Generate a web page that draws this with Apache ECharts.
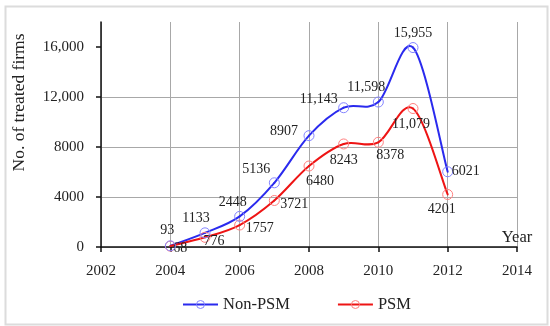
<!DOCTYPE html>
<html>
<head>
<meta charset="utf-8">
<script src="https://cdn.jsdelivr.net/npm/echarts@6/dist/echarts.min.js"></script>
<style>
html,body{margin:0;padding:0;background:#fff;}
#c{width:550px;height:326px;}
</style>
</head>
<body>
<div id="c"></div>
<script>
const years = [2004, 2005, 2006, 2007, 2008, 2009, 2010, 2011, 2012];
const nonPsm = [93, 1133, 2448, 5136, 8907, 11143, 11598, 15955, 6021];
const psm = [68, 776, 1757, 3721, 6480, 8243, 8378, 11079, 4201];
const yTickValues = [0, 4000, 8000, 12000, 16000];
const seriesNames = ['Non-PSM', 'PSM'];

// label offsets (pixels) relative to each point
const nonPsmLabelOffset = [[-3,-16],[-9,-15],[-7,-14],[-18,-13],[-25,-4],[-25,-8],[-12,-15],[0,-14],[18,0]];
const psmLabelOffset = [[10,2],[9,4],[20,3],[20,4],[11,15],[0,16],[12,13],[-2,16],[-6,15]];

const BLUE = '#2a2aee', RED = '#ee1414';
const BLUE_M = '#8484ff', RED_M = '#ff8080';

function fmt(v){
  return v >= 10000 ? String(v).replace(/\B(?=(\d{3})+(?!\d))/g, ',') : String(v);
}
const FONT = '"Liberation Serif", "DejaVu Serif", serif';

function build(vals, offs){
  return vals.map((v, i) => ({value: [years[i], v], label: {offset: offs[i]}}));
}

// smooth curve (Catmull-Rom style bezier) drawn through the library's coordinate system
function curveSeries(vals, color){
  return {
    type: 'custom', name: 'curve', silent: true, z: 1,
    data: vals.map((v, i) => [years[i], v]),
    renderItem: function(params, api){
      const i = params.dataIndex;
      const n = vals.length;
      if (i >= n - 1) return null;
      const P = j => api.coord([years[Math.max(0, Math.min(n - 1, j))], vals[Math.max(0, Math.min(n - 1, j))]]);
      const p0 = P(i - 1), p1 = P(i), p2 = P(i + 1), p3 = P(i + 2);
      const k = 1 / 6;
      return {
        type: 'bezierCurve',
        shape: {
          x1: p1[0], y1: p1[1], x2: p2[0], y2: p2[1],
          cpx1: p1[0] + (p2[0] - p0[0]) * k, cpy1: p1[1] + (p2[1] - p0[1]) * k,
          cpx2: p2[0] - (p3[0] - p1[0]) * k, cpy2: p2[1] - (p3[1] - p1[1]) * k
        },
        style: {fill: null, stroke: color, lineWidth: 2, lineCap: 'round'}
      };
    }
  };
}

const chart = echarts.init(document.getElementById('c'), null, {renderer: 'canvas'});
chart.setOption({
  animation: false,
  backgroundColor: '#fff',
  textStyle: {fontFamily: FONT},
  graphic: [{
    type: 'rect', left: 3, top: 4, shape: {width: 542, height: 318},
    style: {fill: 'none', stroke: '#dcdcdc', lineWidth: 2}, z: -1
  }],
  grid: {left: 101, right: 33, top: 22, bottom: 79},
  legend: {
    bottom: 8, left: 177,
    itemWidth: 35, itemHeight: 10, itemGap: 47,
    textStyle: {fontFamily: FONT, fontSize: 16.5, color: '#222'},
    data: [
      {name: seriesNames[0], lineStyle: {color: BLUE, width: 2, opacity: 1}, itemStyle: {color: 'transparent', borderColor: BLUE_M, borderWidth: 1}},
      {name: seriesNames[1], lineStyle: {color: RED, width: 2, opacity: 1}, itemStyle: {color: 'transparent', borderColor: RED_M, borderWidth: 1}}
    ]
  },
  xAxis: {
    type: 'value', min: 2002, max: 2014, interval: 2,
    name: 'Year', nameLocation: 'end', nameGap: 0,
    nameTextStyle: {fontFamily: FONT, fontSize: 16.5, color: '#222', align: 'center', verticalAlign: 'bottom', padding: [0,0,1,0]},
    axisLine: {lineStyle: {color: '#111', width: 1.5}},
    axisTick: {show: true, length: 5, lineStyle: {color: '#111', width: 1.5}},
    axisLabel: {margin: 17, fontFamily: FONT, fontSize: 15, color: '#222', formatter: v => String(v)},
    splitLine: {show: true, lineStyle: {color: '#a8a8a8', width: 1}}
  },
  yAxis: {
    type: 'value', min: 0, max: 18000, interval: 4000,
    name: 'No. of treated firms', nameLocation: 'middle', nameGap: 73,
    nameTextStyle: {fontFamily: FONT, fontSize: 17.5, color: '#222', padding: [0,0,0,64]},
    axisLine: {show: true, lineStyle: {color: '#111', width: 1.5}},
    axisTick: {show: true, length: 5, lineStyle: {color: '#111', width: 1.5}, customValues: yTickValues},
    axisLabel: {margin: 17, fontFamily: FONT, fontSize: 15, color: '#222', customValues: yTickValues, formatter: v => fmt(v)},
    splitLine: {show: true, showMaxLine: false, lineStyle: {color: '#a8a8a8', width: 1}}
  },
  series: [
    curveSeries(nonPsm, BLUE),
    curveSeries(psm, RED),
    {
      name: seriesNames[0], type: 'line',
      data: build(nonPsm, nonPsmLabelOffset),
      symbol: 'circle', symbolSize: 10,
      lineStyle: {opacity: 0},
      itemStyle: {color: 'transparent', borderColor: BLUE_M, borderWidth: 1},
      label: {show: true, position: 'inside', fontFamily: FONT, fontSize: 14, color: '#222',
        formatter: p => fmt(p.value[1])},
      z: 3
    },
    {
      name: seriesNames[1], type: 'line',
      data: build(psm, psmLabelOffset),
      symbol: 'circle', symbolSize: 10,
      lineStyle: {opacity: 0},
      itemStyle: {color: 'transparent', borderColor: RED_M, borderWidth: 1},
      label: {show: true, position: 'inside', fontFamily: FONT, fontSize: 14, color: '#222',
        formatter: p => fmt(p.value[1])},
      z: 2
    }
  ]
});
</script>
</body>
</html>
